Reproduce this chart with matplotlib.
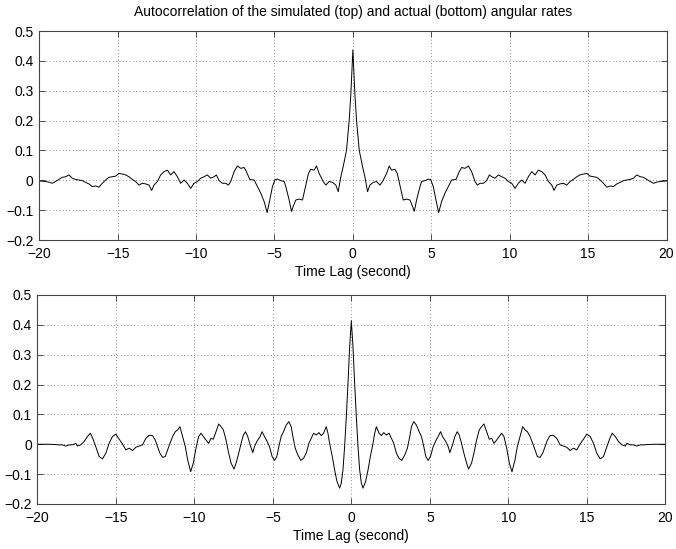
import numpy as np
import matplotlib
matplotlib.use('Agg')
import matplotlib.pyplot as plt

# Datos (lado positivo, la autocorrelacion es simetrica)
lag_sim = [0.000, 0.128, 0.234, 0.404, 0.617, 0.766, 0.936, 1.085, 1.298, 1.511, 1.723, 1.894,
           2.149, 2.319, 2.468, 2.681, 2.830, 3.000, 3.213, 3.426, 3.638, 3.809, 3.915, 4.064,
           4.277, 4.383, 4.596, 4.809, 4.957, 5.128, 5.298, 5.468, 5.660, 5.872, 6.085, 6.298,
           6.574, 6.787, 6.936, 7.149, 7.362, 7.574, 7.787, 7.936, 8.106, 8.319, 8.532, 8.702,
           8.851, 9.064, 9.277, 9.489, 9.702, 9.915, 10.128, 10.340, 10.553, 10.766, 10.979,
           11.191, 11.404, 11.617, 11.830, 12.043, 12.255, 12.468, 12.681, 12.830, 13.000,
           13.213, 13.426, 13.638, 13.851, 14.064, 14.277, 14.489, 14.702, 14.915, 15.128,
           15.340, 15.553, 15.766, 15.979, 16.191, 16.404, 16.617, 16.830, 17.043, 17.255,
           17.468, 17.681, 17.894, 18.106, 18.319, 18.532, 18.745, 18.957, 19.170, 19.383,
           19.596, 20.000]
acf_sim = [0.437, 0.290, 0.201, 0.101, 0.046, 0.012, -0.038, -0.016, -0.007, -0.004, -0.016, -0.004,
           0.023, 0.048, 0.034, 0.037, 0.023, -0.016, -0.066, -0.063, -0.066, -0.088, -0.104, -0.066,
           -0.021, -0.004, -0.001, 0.004, 0.003, -0.021, -0.066, -0.108, -0.071, -0.043, -0.021, 0.001,
           0.003, 0.029, 0.043, 0.040, 0.048, 0.029, -0.004, -0.016, -0.010, -0.010, -0.001, 0.018,
           0.012, 0.007, 0.018, 0.012, 0.007, -0.004, -0.010, -0.027, -0.010, 0.001, -0.010,
           0.012, 0.029, 0.018, 0.034, 0.029, 0.018, -0.004, -0.016, -0.034, -0.016,
           -0.012, -0.010, -0.016, -0.004, 0.003, 0.012, 0.018, 0.021, 0.023, 0.014,
           0.012, 0.010, 0.001, -0.010, -0.023, -0.019, -0.021, -0.012, -0.007, -0.001,
           0.001, 0.003, 0.007, 0.018, 0.012, 0.010, 0.003, -0.004, -0.010, -0.006,
           -0.004, -0.002]

lag_act = [0.000, 0.106, 0.213, 0.319, 0.426, 0.532, 0.638, 0.745, 0.915, 1.064, 1.213, 1.383,
           1.489, 1.596, 1.766, 1.915, 2.064, 2.234, 2.404, 2.553, 2.702, 2.872, 3.043, 3.213,
           3.404, 3.574, 3.723, 3.830, 3.979, 4.149, 4.319, 4.468, 4.617, 4.745, 4.894, 5.043,
           5.213, 5.383, 5.532, 5.681, 5.809, 6.021, 6.170, 6.277, 6.447, 6.596, 6.745, 6.872,
           7.021, 7.170, 7.340, 7.468, 7.660, 7.809, 7.979, 8.149, 8.298, 8.447, 8.617, 8.787,
           8.936, 9.085, 9.255, 9.426, 9.574, 9.723, 9.894, 10.064, 10.234, 10.426, 10.574,
           10.745, 10.915, 11.064, 11.213, 11.383, 11.553, 11.702, 11.851, 12.021, 12.191,
           12.340, 12.489, 12.660, 12.872, 13.085, 13.298, 13.511, 13.723, 13.936, 14.149,
           14.362, 14.574, 14.787, 15.000, 15.213, 15.426, 15.638, 15.851, 16.064, 16.277,
           16.447, 16.617, 16.809, 17.021, 17.234, 17.447, 17.553, 17.766, 17.979, 18.191,
           18.404, 18.617, 18.830, 19.255, 19.681, 20.000]
acf_act = [0.414, 0.326, 0.203, 0.092, -0.008, -0.086, -0.130, -0.147, -0.124, -0.086, -0.041, 0.003,
           0.037, 0.059, 0.037, 0.029, 0.039, 0.031, 0.037, 0.020, 0.003, -0.030, -0.047, -0.054,
           -0.036, -0.013, 0.026, 0.059, 0.076, 0.064, 0.042, 0.026, -0.008, -0.041, -0.054, -0.041,
           -0.008, 0.012, 0.026, 0.042, 0.026, 0.009, -0.008, -0.028, -0.002, 0.026, 0.042, 0.031,
           0.003, -0.030, -0.063, -0.083, -0.063, -0.030, 0.014, 0.048, 0.059, 0.068, 0.042, 0.017,
           0.020, 0.003, 0.014, 0.026, 0.037, 0.026, -0.013, -0.063, -0.092, -0.052, -0.008,
           0.026, 0.059, 0.048, 0.042, 0.026, 0.003, -0.019, -0.041, -0.044, -0.030,
           -0.008, 0.014, 0.029, 0.030, 0.020, -0.002, -0.006, -0.010, -0.021, -0.013,
           -0.019, 0.001, 0.017, 0.034, 0.026, 0.003, -0.030, -0.049, -0.041, -0.008,
           0.017, 0.037, 0.026, 0.009, -0.002, -0.006, 0.003, -0.002, -0.002, -0.006,
           -0.002, -0.002, -0.001, 0.000, 0.000, 0.000]

xticks = [-20, -15, -10, -5, 0, 5, 10, 15, 20]
yticks = [-0.2, -0.1, 0, 0.1, 0.2, 0.3, 0.4, 0.5]
titulo = 'Autocorrelation of the simulated (top) and actual (bottom) angular rates'
etiqueta_x = 'Time Lag (second)'


def simetrica(lag, acf):
    lag = np.array(lag)
    acf = np.array(acf)
    return np.concatenate([-lag[::-1], lag[1:]]), np.concatenate([acf[::-1], acf[1:]])


plt.rcParams['font.family'] = ['Liberation Sans', 'DejaVu Sans']
plt.rcParams['font.size'] = 10

fig = plt.figure(figsize=(6.76, 5.49), dpi=100)
ax1 = fig.add_axes([0.058, 0.5628, 0.928, 0.3807])
ax2 = fig.add_axes([0.0552, 0.0820, 0.929, 0.3807])

for ax, (lag, acf) in zip([ax1, ax2], [(lag_sim, acf_sim), (lag_act, acf_act)]):
    x, y = simetrica(lag, acf)
    ax.plot(x, y, color='black', linewidth=0.7)
    ax.set_xlim(-20, 20)
    ax.set_ylim(-0.2, 0.5)
    ax.set_xticks(xticks)
    ax.set_yticks(yticks)
    ax.set_yticklabels(['\u22120.2', '\u22120.1', '0', '0.1', '0.2', '0.3', '0.4', '0.5'])
    ax.grid(True, color='#666666', linestyle=(0, (1, 3)), linewidth=0.6)
    ax.tick_params(direction='in', top=True, right=True, length=4, width=0.6,
                   color='#333333', labelsize=10)
    ax.tick_params(axis='x', pad=5)
    ax.tick_params(axis='y', pad=4)
    for s in ax.spines.values():
        s.set_color('#444444')
        s.set_linewidth(0.8)
    ax.set_xlabel(etiqueta_x, labelpad=3)

ax1.set_title(titulo, fontsize=10, pad=11)

fig.savefig('out.png', dpi=100)
